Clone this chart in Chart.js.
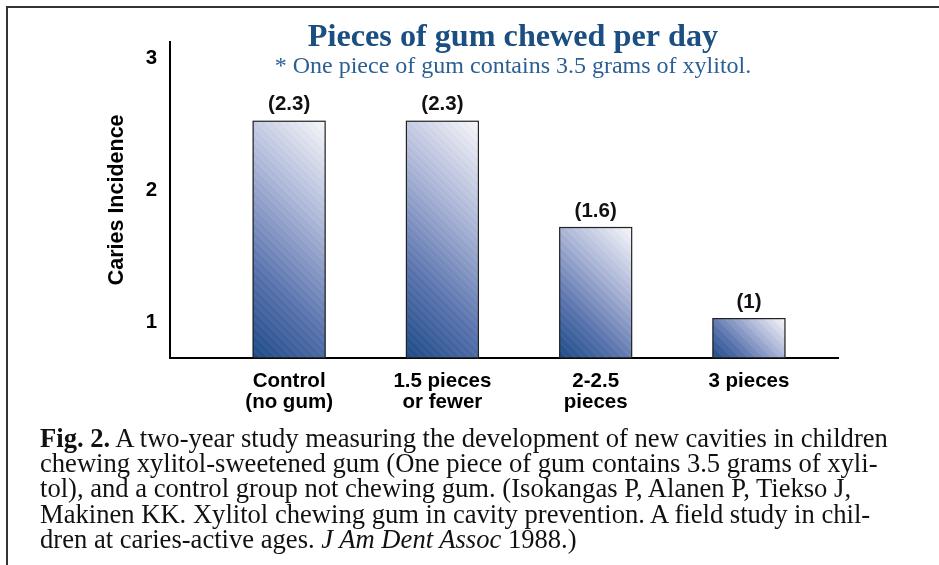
<!DOCTYPE html>
<html>
<head>
  <meta charset="utf-8">
  <title>Pieces of gum chewed per day</title>
  <script src="https://cdn.jsdelivr.net/npm/chart.js@4.4.1/dist/chart.umd.min.js"></script>
  <style>
    body { margin: 0; background: #fff; width: 939px; height: 565px; overflow: hidden; position: relative; }
    #frame { position: absolute; left: 6px; top: 6px; width: 940px; height: 570px;
             border-left: 2px solid #333; border-top: 2px solid #333; }
    #chart { position: absolute; left: 0; top: 0; }
    #caption { position: absolute; left: 40px; top: 426px; white-space: nowrap;
               font-family: "Liberation Serif", "Times New Roman", serif; font-size: 26.6px;
               line-height: 25.2px; color: #111; }
  </style>
</head>
<body>
  <div id="frame"></div>
  <canvas id="chart" width="939" height="426"></canvas>
  <div id="caption"><b>Fig. 2.</b> A two-year study measuring the development of new cavities in children<br>chewing xylitol-sweetened gum (One piece of gum contains 3.5 grams of xyli-<br>tol), and a control group not chewing gum. (Isokangas P, Alanen P, Tiekso J,<br>Makinen KK. Xylitol chewing gum in cavity prevention. A field study in chil-<br>dren at caries-active ages. <i>J Am Dent Assoc</i> 1988.)</div>

  <script>
    // values as printed above each bar
    const groups = [
      ['Control', '(no gum)'],
      ['1.5 pieces', 'or fewer'],
      ['2-2.5', 'pieces'],
      ['3 pieces']
    ];
    const incidence = [2.3, 2.3, 1.6, 1];
    const yTicks = [1, 2, 3];

    const BAR_W = 72;
    const SANS = 'Arial, "Liberation Sans", Helvetica, sans-serif';
    const SERIF = '"Liberation Serif", "Times New Roman", serif';

    function barGradient(c) {
      const chart = c.chart;
      const xs = chart.scales.x, ys = chart.scales.yb;
      if (!xs || !ys || c.type !== 'data' || !c.raw) return '#8090bd';
      const cx = xs.getPixelForValue(c.raw.x);
      const top = ys.getPixelForValue(c.raw.y);
      const bottom = ys.getPixelForValue(ys.min);
      if (![cx, top, bottom].every(Number.isFinite)) return '#8090bd';
      const left = cx - BAR_W / 2;
      const d = (BAR_W + (bottom - top)) / 2;
      const g = chart.ctx.createLinearGradient(left, bottom, left + d, bottom - d);
      g.addColorStop(0, '#1e4c88');
      g.addColorStop(0.3, '#5a74ae');
      g.addColorStop(0.65, '#aeb8d8');
      g.addColorStop(1, '#f8f8fb');
      return g;
    }

    // stripes, border and value labels on the bars
    const barDecor = {
      id: 'barDecor',
      afterDatasetsDraw(chart) {
        const ctx = chart.ctx;
        const meta = chart.getDatasetMeta(0);
        meta.data.forEach((el, i) => {
          const left = el.x - el.width / 2, right = el.x + el.width / 2;
          const top = el.y, bottom = Math.min(el.base, chart.chartArea.bottom);
          ctx.save();
          ctx.beginPath();
          ctx.rect(left, top, right - left, bottom - top);
          ctx.clip();
          ctx.lineWidth = 1;
          for (let s = -(bottom - top); s < right - left; s += 4) {
            ctx.strokeStyle = (Math.round(s / 4) % 2) ? 'rgba(255,255,255,0.10)' : 'rgba(30,50,100,0.04)';
            ctx.beginPath();
            ctx.moveTo(left + s, top);
            ctx.lineTo(left + s + (bottom - top), bottom);
            ctx.stroke();
          }
          ctx.restore();

          ctx.save();
          ctx.strokeStyle = '#222';
          ctx.lineWidth = 1.2;
          ctx.strokeRect(left, top, right - left, bottom - top);
          ctx.fillStyle = '#111';
          ctx.font = 'bold 20.5px ' + SANS;
          ctx.textAlign = 'center';
          ctx.textBaseline = 'alphabetic';
          ctx.fillText('(' + incidence[i] + ')', el.x, top - 11);
          ctx.restore();
        });
      }
    };

    const heading = {
      id: 'heading',
      afterDraw(chart) {
        const ctx = chart.ctx;
        ctx.save();
        ctx.textAlign = 'center';
        ctx.textBaseline = 'alphabetic';
        ctx.fillStyle = '#1b4f82';
        ctx.font = 'bold 32.2px ' + SERIF;
        ctx.fillText('Pieces of gum chewed per day', 513, 46);
        ctx.fillStyle = '#2a5f94';
        ctx.font = '24px ' + SERIF;
        ctx.fillText('* One piece of gum contains 3.5 grams of xylitol.', 513, 73);
        ctx.restore();
      }
    };

    new Chart(document.getElementById('chart'), {
      type: 'bar',
      data: {
        datasets: [{
          data: incidence.map((v, i) => ({ x: i, y: v })),
          yAxisID: 'yb',
          backgroundColor: barGradient,
          borderColor: '#222',
          borderWidth: 0,
          barThickness: BAR_W
        }]
      },
      options: {
        responsive: false,
        animation: false,
        events: [],
        layout: { padding: { left: 104, right: 101, top: 42, bottom: 0 } },
        plugins: { legend: { display: false }, tooltip: { enabled: false }, title: { display: false } },
        scales: {
          x: {
            type: 'linear',
            offset: false,
            min: -0.776,
            max: 3.581,
            afterBuildTicks: axis => { axis.ticks = groups.map((g, i) => ({ value: i })); },
            grid: { display: false, drawTicks: false },
            border: { display: true, color: '#000', width: 2 },
            ticks: {
              autoSkip: false, maxRotation: 0, padding: 13, color: '#000',
              font: { family: SANS, size: 20.5, weight: 'bold', lineHeight: 1.03 },
              callback: v => groups[v]
            }
          },
          y: {
            position: 'left',
            min: 0.735,
            max: 3.121,
            afterBuildTicks: axis => { axis.ticks = yTicks.map(v => ({ value: v })); },
            grid: { display: false, drawTicks: false },
            border: { display: true, color: '#000', width: 2 },
            ticks: { padding: 13, color: '#000', font: { family: SANS, size: 20.5, weight: 'bold' } },
            title: {
              display: true, text: 'Caries Incidence', color: '#000',
              padding: { top: 0, bottom: 3 },
              font: { family: SANS, size: 21.5, weight: 'bold' }
            }
          },
          yb: {
            display: false,
            min: 0.742,
            max: 2.822
          }
        }
      },
      plugins: [barDecor, heading]
    });
  </script>
</body>
</html>
